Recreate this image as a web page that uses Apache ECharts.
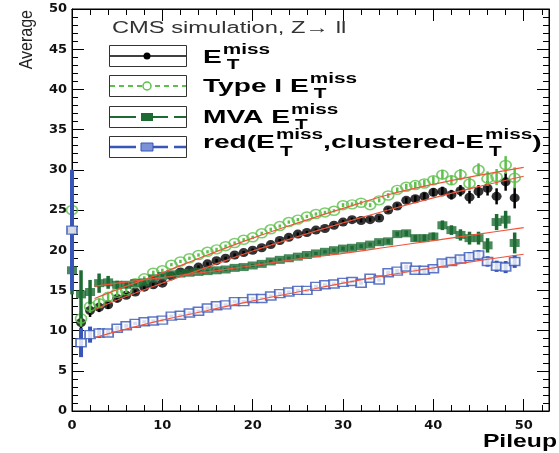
<!DOCTYPE html>
<html><head><meta charset="utf-8">
<script src="https://cdn.jsdelivr.net/npm/echarts@6/dist/echarts.min.js"></script>
<style>html,body{margin:0;padding:0;background:#fff}#c{width:559px;height:453px}</style>
</head><body><div id="c"></div>
<script>
const pileup = [0,1,2,3,4,5,6,7,8,9,10,11,12,13,14,15,16,17,18,19,20,21,22,23,24,25,26,27,28,29,30,31,32,33,34,35,36,37,38,39,40,41,42,43,44,45,46,47,48,49];
const metVals = [22.5,11.0,12.5,12.9,13.2,14.0,14.4,14.8,15.4,15.7, 15.9,16.8,17.3,17.5,17.9,18.3,18.7,19.0,19.4,19.7, 20.0,20.3,20.7,21.2,21.6,22.0,22.2,22.5,22.7,23.1, 23.5,23.8,23.7,23.8,24.0,25.0,25.5,26.2,26.4,26.7, 27.2,27.3,26.9,27.4,26.6,27.3,27.7,26.7,28.5,26.5];
const metErr  = [1.0,1.2,0.8,0.6,0.5,0.4,0.3,0.3,0.25,0.25, 0.2,0.2,0.2,0.2,0.2,0.2,0.2,0.2,0.2,0.2, 0.2,0.2,0.2,0.2,0.2,0.2,0.2,0.2,0.2,0.2, 0.25,0.25,0.25,0.25,0.25,0.3,0.3,0.35,0.4,0.45, 0.5,0.6,0.6,0.7,0.8,0.8,0.9,1.0,1.1,1.3];
const typeIVals = [25.0,11.5,13.0,13.4,14.2,14.7,15.0,15.9,16.5,17.2, 17.5,18.2,18.6,19.0,19.4,19.8,20.1,20.5,20.9,21.3, 21.6,22.1,22.6,23.0,23.5,23.8,24.2,24.5,24.7,24.9, 25.6,25.7,25.9,25.6,26.2,26.8,27.5,27.9,28.1,28.3, 28.7,29.4,28.7,29.4,28.3,30.0,28.9,29.1,30.6,29.0];
const typeIErr  = [5.0,1.0,0.8,0.6,0.5,0.4,0.3,0.3,0.25,0.25, 0.2,0.2,0.2,0.2,0.2,0.2,0.2,0.2,0.2,0.2, 0.2,0.2,0.2,0.2,0.2,0.2,0.2,0.2,0.2,0.2, 0.25,0.25,0.25,0.25,0.25,0.3,0.3,0.35,0.4,0.45, 0.5,0.6,0.6,0.7,0.8,0.8,0.9,1.0,1.1,1.3];
const mvaVals = [17.5,14.5,14.8,15.9,16.0,15.7,15.7,15.9,16.0,16.5, 16.8,17.0,17.1,17.2,17.3,17.4,17.5,17.6,17.8,17.9, 18.1,18.3,18.6,18.8,19.0,19.2,19.4,19.6,19.8,20.0, 20.2,20.3,20.5,20.7,21.0,21.1,22.0,22.1,21.5,21.5, 21.7,23.1,22.5,21.9,21.5,21.5,20.6,23.5,23.8,20.9];
const mvaErr  = [3.0,3.0,1.5,1.2,0.8,0.5,0.4,0.3,0.3,0.25, 0.2,0.2,0.2,0.2,0.2,0.2,0.2,0.2,0.2,0.2, 0.2,0.2,0.2,0.2,0.2,0.2,0.2,0.2,0.2,0.2, 0.25,0.25,0.25,0.25,0.25,0.3,0.3,0.35,0.4,0.45, 0.5,0.6,0.6,0.7,0.8,0.8,0.9,1.0,1.1,1.3];
const redVals = [22.5,8.5,9.5,9.7,9.7,10.3,10.6,10.9,11.1,11.2, 11.3,11.8,11.9,12.2,12.4,12.8,13.1,13.2,13.6,13.6, 14.0,14.0,14.3,14.6,14.8,15.0,15.0,15.5,15.7,15.8, 16.0,16.1,15.9,16.5,16.3,17.2,17.4,17.9,17.5,17.5, 17.7,18.4,18.6,18.9,19.2,19.4,18.6,18.0,17.9,18.6];
const redErr  = [7.5,1.8,1.0,0.6,0.4,0.3,0.25,0.2,0.2,0.2, 0.2,0.2,0.2,0.2,0.2,0.2,0.2,0.2,0.2,0.2, 0.2,0.2,0.2,0.2,0.2,0.2,0.2,0.2,0.2,0.2, 0.2,0.2,0.2,0.2,0.2,0.25,0.25,0.3,0.3,0.35, 0.4,0.45,0.45,0.5,0.55,0.6,0.65,0.7,0.75,0.8];
const fitX     = [2.5,5,10,15,20,25,30,35,40,45,50];
const fitMet   = [12.6,13.8,15.9,17.9,19.9,21.7,23.4,25.0,26.5,27.9,29.2];
const fitTypeI = [14.0,15.1,17.2,19.4,21.5,23.4,25.2,26.9,28.2,29.3,30.3];
const fitMva   = [15.5,15.9,16.6,17.3,18.1,18.9,19.6,20.4,21.2,22.0,22.8];
const fitRed   = [9.1,9.9,11.3,12.5,13.7,14.8,15.9,16.9,17.8,18.7,19.5];
const xTicks = [0,10,20,30,40,50];
const yTicks = [0,5,10,15,20,25,30,35,40,45,50];

const C_MET='#000000', C_TYPE='#5cc04a', C_MVA='#1d6b33', C_RED='#3756b8', C_FIT='#f0553c';
const chart = echarts.init(document.getElementById('c'), null, {renderer:'canvas'});
const ELLIPSE='path://M-1,0A1,1,0,1,0,1,0A1,1,0,1,0,-1,0Z';

function pairs(v){ return pileup.map((x,i)=>[x,v[i]]); }
function errData(v,e){ return pileup.map((x,i)=>[x,v[i],e[i]]); }
function errSeries(v,e,color,w,z){
  return {type:'custom', z:z, silent:true, data:errData(v,e),
    encode:{x:0,y:1},
    renderItem:function(params,api){
      const x=api.value(0), y=api.value(1), er=api.value(2);
      const p1=api.coord([x,y-er]), p2=api.coord([x,y+er]);
      return {type:'line', shape:{x1:p1[0],y1:p1[1],x2:p2[0],y2:p2[1]}, style:{stroke:color,lineWidth:w}};
    }};
}
function fitSeries(v){
  return {type:'line', z:20, data:fitX.map((x,i)=>[x,v[i]]), smooth:0.4, showSymbol:false, silent:true,
    lineStyle:{color:C_FIT,width:1.2}};
}

const mcv=document.createElement('canvas').getContext('2d');
function tw(t,font){ mcv.font=font; return mcv.measureText(t).width; }
const FAM='"Liberation Sans", Arial, sans-serif';
const SX=1.48, MF=19, SF=14;
function latex(x, base, parts, subDrop){
  const els=[]; let cx=x;
  const mainF='bold '+MF+'px '+FAM, smallF='bold '+SF+'px '+FAM;
  for(const p of parts){
    if(p.main!==undefined){
      els.push({type:'text', x:cx, y:base+0.3*MF, scaleX:SX, z:40, style:{text:p.main, font:mainF, fill:'#000', textAlign:'left', textVerticalAlign:'bottom'}});
      cx+=tw(p.main,mainF)*SX;
    } else {
      els.push({type:'text', x:cx+1, y:base-9+0.3*SF, scaleX:SX, z:40, style:{text:p.sup, font:smallF, fill:'#000', textAlign:'left', textVerticalAlign:'bottom'}});
      els.push({type:'text', x:cx+5, y:base+subDrop+0.3*SF, scaleX:SX, z:40, style:{text:p.sub, font:smallF, fill:'#000', textAlign:'left', textVerticalAlign:'bottom'}});
      cx+=Math.max(tw(p.sup,smallF),tw(p.sub,smallF))*SX+1;
    }
  }
  return els;
}
const legRows=[56,86,117,147];
const gfx=[];
legRows.forEach((ly)=>{
  gfx.push({type:'rect', shape:{x:109.5,y:ly-10.5,width:77,height:21}, style:{fill:'#fff',stroke:'#333',lineWidth:1}, z:30});
});
gfx.push({type:'line', shape:{x1:110,y1:56,x2:186,y2:56}, style:{stroke:C_MET,lineWidth:1.5}, z:31});
gfx.push({type:'circle', shape:{cx:147,cy:56,r:3.5}, style:{fill:C_MET}, z:32});
gfx.push({type:'line', shape:{x1:110,y1:86,x2:186,y2:86}, style:{stroke:C_TYPE,lineWidth:2,lineDash:[5,4]}, z:31});
gfx.push({type:'circle', shape:{cx:147,cy:86,r:4}, style:{fill:'#fff',stroke:C_TYPE,lineWidth:1.5}, z:32});
gfx.push({type:'line', shape:{x1:110,y1:117,x2:186,y2:117}, style:{stroke:C_MVA,lineWidth:2,lineDash:[26,6]}, z:31});
gfx.push({type:'rect', shape:{x:141,y:113,width:12,height:8}, style:{fill:C_MVA}, z:32});
gfx.push({type:'line', shape:{x1:110,y1:147,x2:186,y2:147}, style:{stroke:C_RED,lineWidth:2.5,lineDash:[26,6]}, z:31});
gfx.push({type:'rect', shape:{x:141,y:143,width:12,height:8}, style:{fill:'#7b93d6',stroke:C_RED,lineWidth:1}, z:32});
gfx.push(...latex(203,62,[{main:'E'},{sup:'miss',sub:'T'}],6));
gfx.push(...latex(203,91,[{main:'Type I E'},{sup:'miss',sub:'T'}],6));
gfx.push(...latex(203,122,[{main:'MVA E'},{sup:'miss',sub:'T'}],6));
gfx.push(...latex(203,147,[{main:'red(E'},{sup:'miss',sub:'T'},{main:',clustered-E'},{sup:'miss',sub:'T'},{main:')'}],8));
gfx.push({type:'text', x:112, y:28.5, scaleX:1.48, z:40, style:{text:'CMS simulation, Z\u2192 ll', font:'16px '+FAM, fill:'#333', textAlign:'left', textVerticalAlign:'middle'}});
gfx.push({type:'text', x:27, y:10, rotation:Math.PI/2, scaleY:1.2, style:{text:'Average', font:'16px '+FAM, fill:'#222', textAlign:'right', textVerticalAlign:'middle'}});
gfx.push({type:'text', x:557, y:451, scaleX:1.3, style:{text:'Pileup', font:'bold 19px '+FAM, fill:'#000', textAlign:'right', textVerticalAlign:'bottom'}});

const tickLbl={fontFamily:'"DejaVu Sans", sans-serif', fontWeight:'bold', fontSize:13, color:'#111'};
function axisCommon(){
  return {axisLine:{show:true,onZero:false,lineStyle:{color:'#000',width:1}},
    axisTick:{show:true,inside:true,length:12,lineStyle:{color:'#000'}},
    minorTick:{show:true,splitNumber:5,length:6,lineStyle:{color:'#000'}},
    splitLine:{show:false}};
}
const option={
  animation:false,
  backgroundColor:'#fff',
  grid:{left:72,right:10,top:9,bottom:42,show:true,borderColor:'#000',borderWidth:1,backgroundColor:'transparent'},
  xAxis:[
    Object.assign({type:'value', min:0, max:52.8, interval:10, position:'bottom',
     axisLabel:{...tickLbl, margin:8, formatter:v=>xTicks.includes(v)?String(v):''}}, axisCommon()),
    Object.assign({type:'value', min:0, max:52.8, interval:10, position:'top', axisLabel:{show:false}}, axisCommon())
  ],
  yAxis:[
    Object.assign({type:'value', min:0, max:50, interval:5, position:'left',
     axisLabel:{...tickLbl, margin:5, formatter:v=>yTicks.includes(v)?String(v):''}}, axisCommon()),
    Object.assign({type:'value', min:0, max:50, interval:5, position:'right', axisLabel:{show:false}}, axisCommon())
  ],
  graphic:gfx,
  series:[
    errSeries(metVals,metErr,C_MET,2.5,2),
    {type:'scatter', z:3, data:pairs(metVals), symbol:ELLIPSE, symbolSize:[10,9], itemStyle:{color:C_MET}, silent:true},
    errSeries(typeIVals,typeIErr,C_TYPE,2.5,4),
    {type:'scatter', z:5, data:pairs(typeIVals), symbol:ELLIPSE, symbolSize:[11,9], itemStyle:{color:'rgba(255,255,255,0)',borderColor:C_TYPE,borderWidth:1.6}, silent:true},
    errSeries(mvaVals,mvaErr,C_MVA,3.5,6),
    {type:'scatter', z:7, data:pairs(mvaVals), symbol:'rect', symbolSize:[10,8], itemStyle:{color:C_MVA}, silent:true},
    errSeries(redVals,redErr,C_RED,4,8),
    {type:'scatter', z:9, data:pairs(redVals), symbol:'rect', symbolSize:[10,8], itemStyle:{color:'#fff',borderColor:C_RED,borderWidth:1.6}, silent:true},
    fitSeries(fitMet), fitSeries(fitTypeI), fitSeries(fitMva), fitSeries(fitRed)
  ]
};
chart.setOption(option);
</script></body></html>
